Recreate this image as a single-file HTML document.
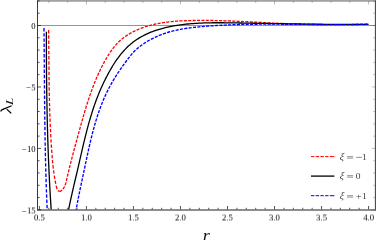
<!DOCTYPE html>
<html><head><meta charset="utf-8"><title>plot</title>
<style>html,body{margin:0;padding:0;background:#fff;overflow:hidden}body{width:376px;height:240px;font-family:"Liberation Serif",serif}</style>
</head><body>
<svg width="376" height="240" viewBox="0 0 376 240" style="display:block">
<rect width="376" height="240" fill="#fff"/>
<line x1="37.5" y1="25.5" x2="375.4" y2="25.5" stroke="#777" stroke-width="0.8"/>
<g fill="none" stroke-linejoin="round" clip-path="url(#c)">
<path d="M48.60,30.10 L48.62,31.56 L48.64,33.02 L48.66,34.49 L48.68,35.95 L48.70,37.41 L48.72,38.87 L48.73,40.33 L48.75,41.79 L48.76,43.25 L48.78,44.70 L48.79,46.16 L48.80,47.62 L48.82,49.08 L48.83,50.54 L48.84,51.99 L48.85,53.45 L48.86,54.91 L48.88,56.36 L48.89,57.82 L48.90,59.27 L48.91,60.73 L48.92,62.19 L48.93,63.64 L48.95,65.10 L48.96,66.55 L48.97,68.01 L48.98,69.46 L48.99,70.92 L49.01,72.37 L49.02,73.83 L49.04,75.28 L49.05,76.73 L49.07,78.19 L49.08,79.64 L49.10,81.10 L49.12,82.55 L49.14,84.01 L49.16,85.46 L49.18,86.92 L49.20,88.37 L49.22,89.83 L49.25,91.29 L49.27,92.74 L49.30,94.20 L49.33,95.65 L49.36,97.11 L49.39,98.57 L49.42,100.02 L49.45,101.48 L49.49,102.94 L49.53,104.40 L49.57,105.85 L49.61,107.31 L49.65,108.77 L49.69,110.23 L49.74,111.69 L49.79,113.15 L49.84,114.61 L49.89,116.07 L49.95,117.53 L50.00,118.99 L50.06,120.45 L50.12,121.91 L50.18,123.37 L50.25,124.83 L50.31,126.29 L50.38,127.75 L50.45,129.21 L50.52,130.67 L50.59,132.13 L50.67,133.58 L50.74,135.04 L50.82,136.49 L50.91,137.95 L50.99,139.40 L51.07,140.86 L51.16,142.31 L51.25,143.76 L51.34,145.21 L51.43,146.66 L51.53,148.10 L51.62,149.55 L51.72,150.99 L51.82,152.44 L51.93,153.88 L52.04,155.32 L52.15,156.76 L52.27,158.21 L52.39,159.65 L52.52,161.09 L52.66,162.53 L52.81,163.98 L52.96,165.42 L53.12,166.87 L53.29,168.31 L53.46,169.76 L53.65,171.21 L53.85,172.66 L54.06,174.11 L54.28,175.57 L54.51,177.03 L54.75,178.49 L55.01,179.95 L55.28,181.42 L55.56,182.89 L55.86,184.36 L56.18,185.84 L56.51,187.31 L56.93,188.72 L57.53,189.97 L58.38,190.96 L59.42,191.46" stroke="#f00" stroke-width="1.3" stroke-dasharray="3.4 1.8"/>
<path d="M59.42,191.46 L60.53,191.24 L61.63,190.45 L62.66,189.36 L63.58,188.10 L64.38,186.73 L65.04,185.32 L65.56,183.91 L65.97,182.51 L66.32,181.11 L66.64,179.71 L66.96,178.31 L67.28,176.91 L67.61,175.51 L67.94,174.10 L68.27,172.70 L68.61,171.29 L68.95,169.89 L69.29,168.48 L69.64,167.08 L69.99,165.67 L70.34,164.26 L70.70,162.86 L71.06,161.45 L71.42,160.04 L71.78,158.63 L72.14,157.22 L72.51,155.81 L72.88,154.40 L73.25,152.99 L73.63,151.58 L74.00,150.17 L74.38,148.76 L74.76,147.35 L75.14,145.94 L75.52,144.53 L75.90,143.12 L76.29,141.71 L76.67,140.30 L77.06,138.89 L77.45,137.47 L77.83,136.06 L78.22,134.65 L78.61,133.24 L79.00,131.83 L79.39,130.42 L79.78,129.01 L80.18,127.60 L80.57,126.19 L80.96,124.78 L81.35,123.38 L81.75,121.97 L82.15,120.56 L82.55,119.15 L82.95,117.75 L83.35,116.35 L83.76,114.94 L84.17,113.54 L84.58,112.14 L85.00,110.74 L85.41,109.34 L85.84,107.95 L86.26,106.56 L86.70,105.16 L87.13,103.77 L87.57,102.38 L88.02,101.00 L88.47,99.61 L88.93,98.23 L89.39,96.85 L89.86,95.48 L90.33,94.10 L90.81,92.73 L91.30,91.36 L91.80,90.00 L92.30,88.63 L92.81,87.27 L93.33,85.92 L93.85,84.56 L94.39,83.21 L94.93,81.87 L95.48,80.52 L96.04,79.18 L96.61,77.85 L97.18,76.51 L97.77,75.19 L98.37,73.86 L98.98,72.54 L99.60,71.23 L100.22,69.91 L100.86,68.61 L101.51,67.30 L102.18,66.01 L102.85,64.71 L103.53,63.42 L104.23,62.14 L104.94,60.86 L105.66,59.59 L106.40,58.32 L107.15,57.06 L107.91,55.80 L108.69,54.56 L109.49,53.33 L110.30,52.11 L111.14,50.91 L111.99,49.72 L112.86,48.56 L113.76,47.41 L114.68,46.28 L115.62,45.17 L116.59,44.09 L117.58,43.03 L118.60,42.01 L119.65,41.01 L120.72,40.03 L121.83,39.10 L122.96,38.19 L124.12,37.31 L125.30,36.46 L126.50,35.64 L127.73,34.84 L128.97,34.08 L130.24,33.34 L131.52,32.64 L132.82,31.95 L134.13,31.30 L135.45,30.67 L136.78,30.06 L138.13,29.48 L139.48,28.92 L140.84,28.39 L142.20,27.88 L143.57,27.39 L144.95,26.93 L146.33,26.48 L147.72,26.06 L149.11,25.66 L150.51,25.28 L151.91,24.92 L153.32,24.57 L154.73,24.25 L156.15,23.94 L157.57,23.65 L158.99,23.38 L160.42,23.12 L161.85,22.88 L163.28,22.66 L164.72,22.45 L166.16,22.25 L167.60,22.07 L169.05,21.90 L170.49,21.74 L171.94,21.59 L173.39,21.46 L174.85,21.34 L176.30,21.22 L177.76,21.12 L179.22,21.03 L180.68,20.94 L182.14,20.87 L183.60,20.80 L185.06,20.74 L186.52,20.68 L187.98,20.63 L189.44,20.59 L190.90,20.55 L192.36,20.52 L193.82,20.49 L195.28,20.46 L196.74,20.44 L198.20,20.43 L199.66,20.42 L201.12,20.41 L202.58,20.41 L204.04,20.41 L205.50,20.41 L206.96,20.42 L208.41,20.43 L209.87,20.45 L211.33,20.47 L212.79,20.49 L214.24,20.52 L215.70,20.54 L217.16,20.58 L218.61,20.61 L220.07,20.65 L221.53,20.69 L222.98,20.73 L224.44,20.78 L225.90,20.83 L227.35,20.88 L228.81,20.93 L230.26,20.98 L231.72,21.04 L233.17,21.10 L234.63,21.16 L236.08,21.22 L237.54,21.28 L238.99,21.35 L240.45,21.42 L241.90,21.48 L243.36,21.55 L244.81,21.62 L246.27,21.69 L247.72,21.77 L249.18,21.84 L250.63,21.91 L252.08,21.99 L253.54,22.06 L254.99,22.14 L256.45,22.21 L257.90,22.29 L259.36,22.36 L260.81,22.44 L262.27,22.51 L263.72,22.59 L265.18,22.66 L266.63,22.74 L268.09,22.81 L269.54,22.89 L270.99,22.96 L272.45,23.03 L273.91,23.10 L275.36,23.17 L276.82,23.24 L278.27,23.31 L279.73,23.37 L281.18,23.44 L282.64,23.50 L284.09,23.56 L285.55,23.62 L287.01,23.68 L288.46,23.74 L289.92,23.80 L291.38,23.85 L292.83,23.90 L294.29,23.95 L295.75,24.00 L297.20,24.05 L298.66,24.10 L300.12,24.14 L301.57,24.19 L303.03,24.23 L304.49,24.27 L305.94,24.31 L307.40,24.34 L308.86,24.38 L310.32,24.41 L311.77,24.44 L313.23,24.47 L314.69,24.50 L316.15,24.53 L317.60,24.55 L319.06,24.57 L320.52,24.59 L321.98,24.61 L323.43,24.63 L324.89,24.64 L326.35,24.66 L327.81,24.67 L329.27,24.68 L330.72,24.69 L332.18,24.69 L333.64,24.70 L335.10,24.70 L336.55,24.70 L338.01,24.70 L339.47,24.70 L340.92,24.69 L342.38,24.68 L343.84,24.67 L345.30,24.66 L346.75,24.65 L348.21,24.63 L349.67,24.62 L351.12,24.60 L352.58,24.58 L354.04,24.55 L355.49,24.53 L356.95,24.50 L358.41,24.47 L359.86,24.44 L361.32,24.40 L362.78,24.37 L364.23,24.33 L365.69,24.29 L367.14,24.24 L368.60,24.20" stroke="#f00" stroke-width="1.3" stroke-dasharray="3.1 1.3"/>
<path d="M46.40,31.75 L46.40,32.52 L46.40,33.29 L46.40,34.06 L46.40,34.84 L46.40,35.61 L46.40,36.38 L46.40,37.15 L46.40,37.92 L46.40,38.69 L46.40,39.46 L46.40,40.23 L46.40,41.01 L46.40,41.78 L46.40,42.55 L46.40,43.32 L46.40,44.09 L46.40,44.86 L46.40,45.63 L46.40,46.41 L46.40,47.18 L46.41,47.95 L46.41,48.72 L46.41,49.49 L46.41,50.26 L46.41,51.03 L46.41,51.81 L46.42,52.58 L46.42,53.35 L46.42,54.12 L46.42,54.89 L46.43,55.66 L46.43,56.43 L46.43,57.21 L46.44,57.98 L46.44,58.75 L46.44,59.52 L46.45,60.29 L46.45,61.06 L46.45,61.83 L46.46,62.60 L46.46,63.38 L46.47,64.15 L46.47,64.92 L46.48,65.69 L46.48,66.46 L46.49,67.23 L46.49,68.00 L46.50,68.78 L46.50,69.55 L46.51,70.32 L46.51,71.09 L46.52,71.86 L46.53,72.63 L46.53,73.40 L46.54,74.18 L46.55,74.95 L46.55,75.72 L46.56,76.49 L46.57,77.26 L46.57,78.03 L46.58,78.80 L46.59,79.58 L46.60,80.35 L46.61,81.12 L46.61,81.89 L46.62,82.66 L46.63,83.43 L46.64,84.20 L46.65,84.98 L46.66,85.75 L46.67,86.52 L46.68,87.29 L46.69,88.06 L46.70,88.83 L46.71,89.60 L46.72,90.37 L46.73,91.15 L46.74,91.92 L46.75,92.69 L46.76,93.46 L46.77,94.23 L46.78,95.00 L46.79,95.77 L46.80,96.55 L46.82,97.32 L46.83,98.09 L46.84,98.86 L46.85,99.63 L46.87,100.40 L46.88,101.17 L46.89,101.95 L46.90,102.72 L46.92,103.49 L46.93,104.26 L46.95,105.03 L46.96,105.80 L46.97,106.57 L46.99,107.34 L47.00,108.12 L47.02,108.89 L47.03,109.66 L47.05,110.43 L47.06,111.20 L47.08,111.97 L47.10,112.74 L47.11,113.51 L47.13,114.29 L47.14,115.06 L47.16,115.83 L47.18,116.60 L47.20,117.37 L47.21,118.14 L47.23,118.91 L47.25,119.68 L47.27,120.45 L47.29,121.23 L47.30,122.00 L47.32,122.77 L47.34,123.54 L47.36,124.31 L47.38,125.08 L47.40,125.85 L47.42,126.62 L47.44,127.40 L47.46,128.17 L47.48,128.94 L47.50,129.71 L47.53,130.48 L47.55,131.25 L47.57,132.02 L47.59,132.79 L47.61,133.56 L47.63,134.33 L47.66,135.11 L47.68,135.88 L47.70,136.65 L47.73,137.42 L47.75,138.19 L47.77,138.96 L47.80,139.73 L47.82,140.50 L47.85,141.27 L47.87,142.04 L47.90,142.82 L47.92,143.59 L47.95,144.36 L47.97,145.13 L48.00,145.90 L48.03,146.67 L48.05,147.44 L48.08,148.21 L48.11,148.98 L48.14,149.75 L48.16,150.52 L48.19,151.30 L48.22,152.07 L48.25,152.84 L48.28,153.61 L48.31,154.38 L48.34,155.15 L48.37,155.92 L48.40,156.69 L48.43,157.46 L48.46,158.23 L48.49,159.00 L48.52,159.77 L48.55,160.54 L48.58,161.32 L48.61,162.09 L48.64,162.86 L48.68,163.63 L48.71,164.40 L48.74,165.17 L48.78,165.94 L48.81,166.71 L48.84,167.48 L48.88,168.25 L48.91,169.02 L48.95,169.79 L48.98,170.56 L49.02,171.33 L49.05,172.10 L49.09,172.87 L49.13,173.65 L49.16,174.42 L49.20,175.19 L49.24,175.96 L49.27,176.73 L49.31,177.50 L49.35,178.27 L49.39,179.04 L49.43,179.81 L49.46,180.58 L49.50,181.35 L49.54,182.12 L49.58,182.89 L49.62,183.66 L49.66,184.43 L49.70,185.20 L49.75,185.97 L49.79,186.74 L49.83,187.51 L49.87,188.28 L49.91,189.05 L49.96,189.82 L50.00,190.59 L50.04,191.36 L50.08,192.13 L50.13,192.90 L50.17,193.67 L50.22,194.44 L50.26,195.21 L50.31,195.98 L50.35,196.75 L50.40,197.52 L50.45,198.29 L50.49,199.06 L50.54,199.83 L50.59,200.60 L50.63,201.37 L50.68,202.14 L50.73,202.91 L50.78,203.68 L50.83,204.45 L50.88,205.22 L50.93,205.99 L50.98,206.76 L51.03,207.53 L51.08,208.30 L51.13,209.07 L51.18,209.84 L51.23,210.61 L51.28,211.38 L51.33,212.15 L51.39,212.92 L51.44,213.69 L51.49,214.46 L51.55,215.23 L51.60,216.00" stroke="#000" stroke-width="1.3"/>
<path d="M67.40,216.00 L67.72,214.23 L68.06,212.46 L68.40,210.69 L68.74,208.93 L69.10,207.17 L69.46,205.41 L69.82,203.66 L70.19,201.90 L70.57,200.15 L70.95,198.41 L71.34,196.66 L71.73,194.92 L72.12,193.17 L72.52,191.43 L72.92,189.69 L73.32,187.95 L73.72,186.21 L74.13,184.47 L74.53,182.73 L74.94,180.99 L75.35,179.25 L75.76,177.51 L76.17,175.77 L76.58,174.03 L76.98,172.29 L77.39,170.54 L77.79,168.80 L78.19,167.05 L78.60,165.30 L79.00,163.55 L79.39,161.80 L79.79,160.05 L80.19,158.30 L80.59,156.55 L80.99,154.80 L81.40,153.05 L81.80,151.30 L82.20,149.55 L82.61,147.80 L83.02,146.04 L83.44,144.30 L83.85,142.55 L84.27,140.80 L84.70,139.05 L85.13,137.31 L85.56,135.56 L86.00,133.82 L86.45,132.08 L86.90,130.35 L87.35,128.61 L87.82,126.88 L88.29,125.15 L88.77,123.42 L89.25,121.69 L89.75,119.97 L90.25,118.25 L90.76,116.54 L91.28,114.83 L91.81,113.12 L92.35,111.41 L92.90,109.71 L93.46,108.02 L94.04,106.33 L94.62,104.64 L95.21,102.96 L95.82,101.28 L96.44,99.60 L97.07,97.94 L97.72,96.27 L98.38,94.62 L99.05,92.97 L99.74,91.32 L100.44,89.68 L101.16,88.05 L101.89,86.42 L102.63,84.80 L103.39,83.18 L104.17,81.57 L104.96,79.97 L105.76,78.37 L106.58,76.77 L107.41,75.18 L108.26,73.60 L109.12,72.03 L110.00,70.46 L110.90,68.89 L111.82,67.34 L112.75,65.79 L113.71,64.26 L114.68,62.74 L115.69,61.23 L116.71,59.73 L117.76,58.26 L118.84,56.80 L119.94,55.37 L121.07,53.95 L122.23,52.57 L123.42,51.21 L124.63,49.88 L125.87,48.58 L127.13,47.31 L128.43,46.09 L129.75,44.89 L131.10,43.74 L132.47,42.64 L133.88,41.57 L135.31,40.54 L136.76,39.54 L138.24,38.59 L139.74,37.67 L141.27,36.79 L142.82,35.95 L144.38,35.13 L145.97,34.36 L147.58,33.61 L149.20,32.90 L150.84,32.22 L152.50,31.58 L154.17,30.96 L155.86,30.37 L157.56,29.81 L159.28,29.28 L161.01,28.78 L162.75,28.30 L164.49,27.85 L166.25,27.42 L168.02,27.02 L169.79,26.64 L171.57,26.29 L173.36,25.95 L175.16,25.64 L176.95,25.35 L178.75,25.08 L180.56,24.82 L182.36,24.59 L184.17,24.37 L185.97,24.17 L187.78,23.99 L189.58,23.82 L191.38,23.67 L193.18,23.53 L194.97,23.41 L196.76,23.29 L198.55,23.19 L200.34,23.10 L202.13,23.03 L203.91,22.96 L205.70,22.90 L207.48,22.86 L209.26,22.82 L211.04,22.79 L212.82,22.77 L214.59,22.75 L216.37,22.74 L218.15,22.74 L219.92,22.75 L221.70,22.76 L223.47,22.77 L225.25,22.79 L227.03,22.81 L228.81,22.83 L230.58,22.85 L232.36,22.88 L234.14,22.91 L235.92,22.93 L237.71,22.96 L239.49,22.99 L241.28,23.02 L243.06,23.05 L244.85,23.08 L246.64,23.11 L248.43,23.14 L250.22,23.17 L252.01,23.20 L253.80,23.23 L255.59,23.27 L257.38,23.30 L259.18,23.33 L260.97,23.36 L262.77,23.39 L264.56,23.42 L266.36,23.46 L268.16,23.49 L269.96,23.52 L271.76,23.55 L273.55,23.58 L275.35,23.61 L277.15,23.64 L278.95,23.67 L280.75,23.71 L282.55,23.74 L284.35,23.77 L286.16,23.80 L287.96,23.82 L289.76,23.85 L291.56,23.88 L293.36,23.91 L295.16,23.94 L296.96,23.96 L298.77,23.99 L300.57,24.02 L302.37,24.04 L304.17,24.07 L305.97,24.09 L307.77,24.11 L309.57,24.14 L311.37,24.16 L313.17,24.18 L314.97,24.20 L316.77,24.22 L318.57,24.24 L320.37,24.26 L322.16,24.27 L323.96,24.29 L325.76,24.30 L327.55,24.32 L329.35,24.33 L331.14,24.34 L332.94,24.35 L334.73,24.36 L336.52,24.37 L338.31,24.38 L340.10,24.39 L341.89,24.39 L343.68,24.40 L345.47,24.40 L347.26,24.40 L349.04,24.40 L350.83,24.40 L352.61,24.39 L354.39,24.39 L356.17,24.38 L357.95,24.38 L359.73,24.37 L361.51,24.36 L363.28,24.35 L365.06,24.33 L366.83,24.32 L368.60,24.30" stroke="#000" stroke-width="1.3"/>
<path d="M44.00,28.00 L44.01,28.79 L44.02,29.57 L44.02,30.36 L44.03,31.15 L44.04,31.93 L44.04,32.72 L44.05,33.51 L44.06,34.29 L44.07,35.08 L44.07,35.87 L44.08,36.65 L44.09,37.44 L44.09,38.23 L44.10,39.01 L44.11,39.80 L44.11,40.59 L44.12,41.37 L44.13,42.16 L44.13,42.95 L44.14,43.73 L44.15,44.52 L44.15,45.31 L44.16,46.09 L44.17,46.88 L44.17,47.67 L44.18,48.45 L44.18,49.24 L44.19,50.03 L44.20,50.81 L44.20,51.60 L44.21,52.39 L44.21,53.18 L44.22,53.96 L44.23,54.75 L44.23,55.54 L44.24,56.32 L44.24,57.11 L44.25,57.90 L44.26,58.68 L44.26,59.47 L44.27,60.26 L44.27,61.04 L44.28,61.83 L44.28,62.62 L44.29,63.40 L44.30,64.19 L44.30,64.98 L44.31,65.76 L44.31,66.55 L44.32,67.34 L44.33,68.12 L44.33,68.91 L44.34,69.70 L44.34,70.48 L44.35,71.27 L44.35,72.06 L44.36,72.85 L44.37,73.63 L44.37,74.42 L44.38,75.21 L44.38,75.99 L44.39,76.78 L44.40,77.57 L44.40,78.35 L44.41,79.14 L44.41,79.93 L44.42,80.71 L44.43,81.50 L44.43,82.29 L44.44,83.07 L44.45,83.86 L44.45,84.65 L44.46,85.43 L44.46,86.22 L44.47,87.01 L44.48,87.79 L44.48,88.58 L44.49,89.37 L44.50,90.16 L44.50,90.94 L44.51,91.73 L44.52,92.52 L44.52,93.30 L44.53,94.09 L44.54,94.88 L44.55,95.66 L44.55,96.45 L44.56,97.24 L44.57,98.02 L44.57,98.81 L44.58,99.60 L44.59,100.38 L44.60,101.17 L44.60,101.96 L44.61,102.74 L44.62,103.53 L44.63,104.32 L44.64,105.11 L44.64,105.89 L44.65,106.68 L44.66,107.47 L44.67,108.25 L44.68,109.04 L44.69,109.83 L44.70,110.61 L44.70,111.40 L44.71,112.19 L44.72,112.97 L44.73,113.76 L44.74,114.55 L44.75,115.33 L44.76,116.12 L44.77,116.91 L44.78,117.69 L44.79,118.48 L44.80,119.27 L44.81,120.05 L44.82,120.84 L44.83,121.63 L44.84,122.41 L44.85,123.20 L44.86,123.99 L44.87,124.77 L44.88,125.56 L44.89,126.35 L44.90,127.14 L44.92,127.92 L44.93,128.71 L44.94,129.50 L44.95,130.28 L44.96,131.07 L44.97,131.86 L44.99,132.64 L45.00,133.43 L45.01,134.22 L45.02,135.00 L45.04,135.79 L45.05,136.58 L45.06,137.36 L45.08,138.15 L45.09,138.94 L45.10,139.72 L45.12,140.51 L45.13,141.30 L45.15,142.08 L45.16,142.87 L45.18,143.66 L45.19,144.44 L45.21,145.23 L45.22,146.02 L45.24,146.80 L45.25,147.59 L45.27,148.38 L45.28,149.16 L45.30,149.95 L45.31,150.74 L45.33,151.52 L45.35,152.31 L45.36,153.10 L45.38,153.88 L45.40,154.67 L45.42,155.46 L45.43,156.24 L45.45,157.03 L45.47,157.81 L45.49,158.60 L45.51,159.39 L45.52,160.17 L45.54,160.96 L45.56,161.75 L45.58,162.53 L45.60,163.32 L45.62,164.11 L45.64,164.89 L45.66,165.68 L45.68,166.47 L45.70,167.25 L45.72,168.04 L45.74,168.83 L45.77,169.61 L45.79,170.40 L45.81,171.19 L45.83,171.97 L45.85,172.76 L45.88,173.54 L45.90,174.33 L45.92,175.12 L45.94,175.90 L45.97,176.69 L45.99,177.48 L46.02,178.26 L46.04,179.05 L46.06,179.84 L46.09,180.62 L46.11,181.41 L46.14,182.20 L46.17,182.98 L46.19,183.77 L46.22,184.55 L46.24,185.34 L46.27,186.13 L46.30,186.91 L46.32,187.70 L46.35,188.49 L46.38,189.27 L46.41,190.06 L46.44,190.84 L46.46,191.63 L46.49,192.42 L46.52,193.20 L46.55,193.99 L46.58,194.78 L46.61,195.56 L46.64,196.35 L46.67,197.13 L46.70,197.92 L46.73,198.71 L46.77,199.49 L46.80,200.28 L46.83,201.07 L46.86,201.85 L46.89,202.64 L46.93,203.42 L46.96,204.21 L46.99,205.00 L47.03,205.78 L47.06,206.57 L47.10,207.35 L47.13,208.14 L47.17,208.93 L47.20,209.71 L47.24,210.50 L47.28,211.28 L47.31,212.07 L47.35,212.86 L47.39,213.64 L47.42,214.43 L47.46,215.21 L47.50,216.00" stroke="#00f" stroke-width="1.35" stroke-dasharray="3.4 1.8"/>
<path d="M75.10,216.00 L75.38,214.26 L75.67,212.53 L75.96,210.80 L76.26,209.07 L76.57,207.34 L76.88,205.62 L77.20,203.90 L77.52,202.18 L77.85,200.47 L78.19,198.76 L78.52,197.04 L78.87,195.34 L79.21,193.63 L79.56,191.92 L79.91,190.21 L80.27,188.51 L80.63,186.80 L80.99,185.10 L81.35,183.40 L81.71,181.69 L82.08,179.99 L82.44,178.28 L82.81,176.58 L83.17,174.87 L83.54,173.17 L83.90,171.46 L84.27,169.75 L84.63,168.04 L84.99,166.33 L85.35,164.62 L85.72,162.90 L86.08,161.19 L86.44,159.48 L86.81,157.76 L87.17,156.05 L87.54,154.33 L87.92,152.62 L88.29,150.90 L88.67,149.19 L89.05,147.48 L89.44,145.77 L89.83,144.06 L90.23,142.35 L90.63,140.64 L91.04,138.93 L91.46,137.23 L91.88,135.53 L92.31,133.83 L92.75,132.14 L93.19,130.44 L93.65,128.75 L94.11,127.07 L94.58,125.38 L95.07,123.70 L95.56,122.03 L96.06,120.36 L96.58,118.69 L97.10,117.02 L97.64,115.37 L98.19,113.71 L98.75,112.06 L99.33,110.42 L99.92,108.78 L100.52,107.15 L101.14,105.52 L101.77,103.90 L102.42,102.28 L103.08,100.67 L103.76,99.07 L104.46,97.47 L105.17,95.88 L105.90,94.30 L106.65,92.73 L107.41,91.16 L108.20,89.60 L109.00,88.05 L109.82,86.50 L110.66,84.97 L111.52,83.44 L112.39,81.92 L113.27,80.40 L114.18,78.90 L115.10,77.40 L116.03,75.92 L116.97,74.44 L117.93,72.96 L118.90,71.50 L119.89,70.05 L120.88,68.60 L121.88,67.16 L122.90,65.73 L123.92,64.31 L124.96,62.90 L126.00,61.49 L127.05,60.10 L128.11,58.71 L129.18,57.34 L130.26,55.99 L131.37,54.65 L132.51,53.35 L133.67,52.08 L134.88,50.84 L136.12,49.65 L137.41,48.50 L138.74,47.39 L140.10,46.31 L141.48,45.26 L142.90,44.25 L144.34,43.27 L145.80,42.32 L147.29,41.40 L148.80,40.51 L150.33,39.65 L151.88,38.83 L153.44,38.03 L155.03,37.27 L156.63,36.54 L158.25,35.83 L159.88,35.16 L161.52,34.52 L163.17,33.91 L164.84,33.33 L166.51,32.77 L168.19,32.25 L169.88,31.76 L171.57,31.30 L173.27,30.87 L174.97,30.46 L176.67,30.08 L178.38,29.73 L180.10,29.39 L181.81,29.08 L183.53,28.79 L185.26,28.52 L186.98,28.27 L188.71,28.03 L190.44,27.81 L192.18,27.60 L193.91,27.41 L195.65,27.22 L197.38,27.05 L199.12,26.88 L200.86,26.72 L202.60,26.57 L204.34,26.42 L206.08,26.27 L207.82,26.14 L209.56,26.01 L211.30,25.88 L213.04,25.76 L214.78,25.65 L216.52,25.54 L218.27,25.43 L220.01,25.33 L221.75,25.24 L223.50,25.15 L225.24,25.06 L226.99,24.98 L228.73,24.90 L230.48,24.83 L232.22,24.77 L233.97,24.70 L235.71,24.64 L237.46,24.59 L239.21,24.54 L240.95,24.49 L242.70,24.45 L244.45,24.40 L246.20,24.37 L247.94,24.33 L249.69,24.30 L251.44,24.28 L253.19,24.25 L254.94,24.23 L256.69,24.21 L258.44,24.20 L260.18,24.19 L261.93,24.17 L263.68,24.17 L265.43,24.16 L267.18,24.16 L268.93,24.16 L270.68,24.16 L272.43,24.16 L274.18,24.16 L275.93,24.17 L277.69,24.18 L279.44,24.19 L281.19,24.20 L282.94,24.21 L284.69,24.22 L286.44,24.24 L288.19,24.25 L289.94,24.27 L291.69,24.28 L293.44,24.30 L295.19,24.32 L296.94,24.34 L298.69,24.36 L300.45,24.38 L302.20,24.39 L303.95,24.41 L305.70,24.43 L307.45,24.45 L309.20,24.47 L310.95,24.49 L312.70,24.51 L314.45,24.52 L316.20,24.54 L317.95,24.56 L319.70,24.57 L321.45,24.58 L323.20,24.60 L324.95,24.61 L326.70,24.62 L328.45,24.63 L330.19,24.63 L331.94,24.64 L333.69,24.64 L335.44,24.65 L337.19,24.65 L338.93,24.64 L340.68,24.64 L342.43,24.63 L344.18,24.63 L345.92,24.61 L347.67,24.60 L349.42,24.58 L351.16,24.57 L352.91,24.54 L354.65,24.52 L356.40,24.49 L358.14,24.46 L359.88,24.42 L361.63,24.39 L363.37,24.35 L365.12,24.30 L366.86,24.25 L368.60,24.20" stroke="#00f" stroke-width="1.35" stroke-dasharray="3.1 1.3"/>
</g>
<defs><clipPath id="c"><rect x="37.5" y="0.95" width="337.9" height="208.9"/></clipPath></defs>
<path d="M37.5,0.5499999999999999V210.65M375.4,0.5499999999999999V210.65" fill="none" stroke="#222" stroke-width="0.9"/>
<path d="M37.05,0.95H375.84999999999997" fill="none" stroke="#222" stroke-width="0.75"/>
<path d="M37.05,210.0H375.84999999999997" fill="none" stroke="#686868" stroke-width="1.4"/>
<path d="M39.40,209.4v-3.4M48.80,209.4v-1.6M58.21,209.4v-1.6M67.62,209.4v-1.6M77.02,209.4v-1.6M86.42,209.4v-3.4M95.83,209.4v-1.6M105.23,209.4v-1.6M114.64,209.4v-1.6M124.04,209.4v-1.6M133.45,209.4v-3.4M142.85,209.4v-1.6M152.26,209.4v-1.6M161.66,209.4v-1.6M171.07,209.4v-1.6M180.47,209.4v-3.4M189.88,209.4v-1.6M199.29,209.4v-1.6M208.69,209.4v-1.6M218.09,209.4v-1.6M227.50,209.4v-3.4M236.91,209.4v-1.6M246.31,209.4v-1.6M255.71,209.4v-1.6M265.12,209.4v-1.6M274.52,209.4v-3.4M283.93,209.4v-1.6M293.33,209.4v-1.6M302.74,209.4v-1.6M312.14,209.4v-1.6M321.55,209.4v-3.4M330.95,209.4v-1.6M340.36,209.4v-1.6M349.76,209.4v-1.6M359.17,209.4v-1.6M368.57,209.4v-3.4M37.5,209.85h3.5M37.5,197.56h2.1M37.5,185.27h2.1M37.5,172.98h2.1M37.5,160.69h2.1M37.5,148.40h3.5M37.5,136.11h2.1M37.5,123.82h2.1M37.5,111.53h2.1M37.5,99.24h2.1M37.5,86.95h3.5M37.5,74.66h2.1M37.5,62.37h2.1M37.5,50.08h2.1M37.5,37.79h2.1M37.5,25.50h3.5M37.5,13.21h2.1M37.5,0.92h2.1" stroke="#1a1a1a" stroke-width="0.75" fill="none"/>
<path d="M48.80,0.95v2.0M67.62,0.95v2.0M86.42,0.95v3.6M105.23,0.95v2.0M124.04,0.95v2.0M142.85,0.95v2.0M161.66,0.95v2.0M180.47,0.95v3.6M199.29,0.95v2.0M218.09,0.95v2.0M236.91,0.95v2.0M255.71,0.95v2.0M274.52,0.95v3.6M293.33,0.95v2.0M312.14,0.95v2.0M330.95,0.95v2.0M349.76,0.95v2.0M368.57,0.95v3.6M375.4,209.85h-3.5M375.4,197.56h-2.1M375.4,185.27h-2.1M375.4,172.98h-2.1M375.4,160.69h-2.1M375.4,148.40h-3.5M375.4,136.11h-2.1M375.4,123.82h-2.1M375.4,111.53h-2.1M375.4,99.24h-2.1M375.4,86.95h-3.5M375.4,74.66h-2.1M375.4,62.37h-2.1M375.4,50.08h-2.1M375.4,37.79h-2.1M375.4,25.50h-3.5M375.4,13.21h-2.1M375.4,0.92h-2.1" stroke="#444" stroke-width="0.35" fill="none"/>
<filter id="gs" x="0" y="0" width="376" height="240" filterUnits="userSpaceOnUse" color-interpolation-filters="sRGB"><feColorMatrix type="saturate" values="0"/></filter>
<filter id="gs2" x="0" y="0" width="376" height="240" filterUnits="userSpaceOnUse" color-interpolation-filters="sRGB"><feColorMatrix type="saturate" values="0"/><feConvolveMatrix order="1 2" kernelMatrix="0.5 0.5" targetX="0" targetY="0" edgeMode="none" preserveAlpha="false"/></filter>
<g filter="url(#gs)">
<g font-family="Liberation Serif, serif" font-size="8.7" fill="#000">
<g filter="url(#gs2)">
<text x="39.40" y="221" text-anchor="middle">0.5</text>
<text x="86.42" y="221" text-anchor="middle">1.0</text>
<text x="133.45" y="221" text-anchor="middle">1.5</text>
<text x="180.47" y="221" text-anchor="middle">2.0</text>
<text x="227.50" y="221" text-anchor="middle">2.5</text>
<text x="274.52" y="221" text-anchor="middle">3.0</text>
<text x="321.55" y="221" text-anchor="middle">3.5</text>
<text x="368.57" y="221" text-anchor="middle">4.0</text>
</g>
<text x="35.6" y="29" text-anchor="end">0</text>
<g filter="url(#gs2)"><text x="35.6" y="91" text-anchor="end">5</text></g>
<text x="31.25" y="90" text-anchor="end">−</text>
<text x="35.6" y="152" text-anchor="end">−10</text>
<g filter="url(#gs2)"><text x="35.6" y="214" text-anchor="end">15</text></g>
<text x="26.90" y="214" text-anchor="end">−</text>
</g>
<text transform="translate(206.2,241) scale(1.13,1)" font-family="Liberation Serif, serif" font-style="italic" font-size="16" text-anchor="middle" fill="#111">r</text>
<path d="M0.9,111.0Q1.3,110.1 2.8,109.45L11.1,106.0" fill="none" stroke="#000" stroke-width="1.3" stroke-linecap="round"/>
<path d="M7.0,109.4L10.9,113.0" fill="none" stroke="#000" stroke-width="1.15" stroke-linecap="round"/>
<g transform="translate(13.2,101.4) rotate(-90) skewX(-6) scale(1.3,1)" font-family="Liberation Serif, serif" font-style="italic" fill="#111"><text x="0" y="0" font-size="10.4" text-anchor="middle">L</text></g>
<g font-family="Liberation Serif, serif" font-size="8.8" fill="#3a3a3a">
<text transform="translate(339.5,160) skewX(-6) scale(1.1,1.03)" font-style="italic" font-size="9.3">ξ</text>
<path d="M347.1,156.65H353.1M347.1,158.15H353.1" stroke="#4a4a4a" stroke-width="0.6" fill="none"/>
<path d="M356.2,157.35H361.9" stroke="#444" stroke-width="0.6" fill="none"/>
<text transform="translate(362.0,160) scale(1.08,1)">1</text>
</g>
<g font-family="Liberation Serif, serif" font-size="8.8" fill="#3a3a3a">
<text transform="translate(339.5,179) skewX(-6) scale(1.1,1.03)" font-style="italic" font-size="9.3">ξ</text>
<path d="M347.1,175.65H353.1M347.1,177.15H353.1" stroke="#4a4a4a" stroke-width="0.6" fill="none"/>
<text transform="translate(355.8,179) scale(1.08,1)">0</text>
</g>
<g font-family="Liberation Serif, serif" font-size="8.8" fill="#3a3a3a">
<text transform="translate(339.5,199) skewX(-6) scale(1.1,1.03)" font-style="italic" font-size="9.3">ξ</text>
<path d="M347.1,195.65H353.1M347.1,197.15H353.1" stroke="#4a4a4a" stroke-width="0.6" fill="none"/>
<text transform="translate(355.9,199) scale(1.12,1)">+</text>
<text transform="translate(362.0,199) scale(1.08,1)">1</text>
</g>
</g>
<line x1="311" y1="156.6" x2="334.4" y2="156.6" stroke="#f00" stroke-width="1.0" stroke-dasharray="3.4 1.3 3.4 1.3 3.4 1.3 3.4 1.3 4.6 9"/>
<line x1="311" y1="176.1" x2="334.4" y2="176.1" stroke="#000" stroke-width="1.3"/>
<line x1="311" y1="195.7" x2="334.4" y2="195.7" stroke="#00f" stroke-width="1.0" stroke-dasharray="3.4 1.3 3.4 1.3 3.4 1.3 3.4 1.3 4.6 9"/>
</svg>
</body></html>
